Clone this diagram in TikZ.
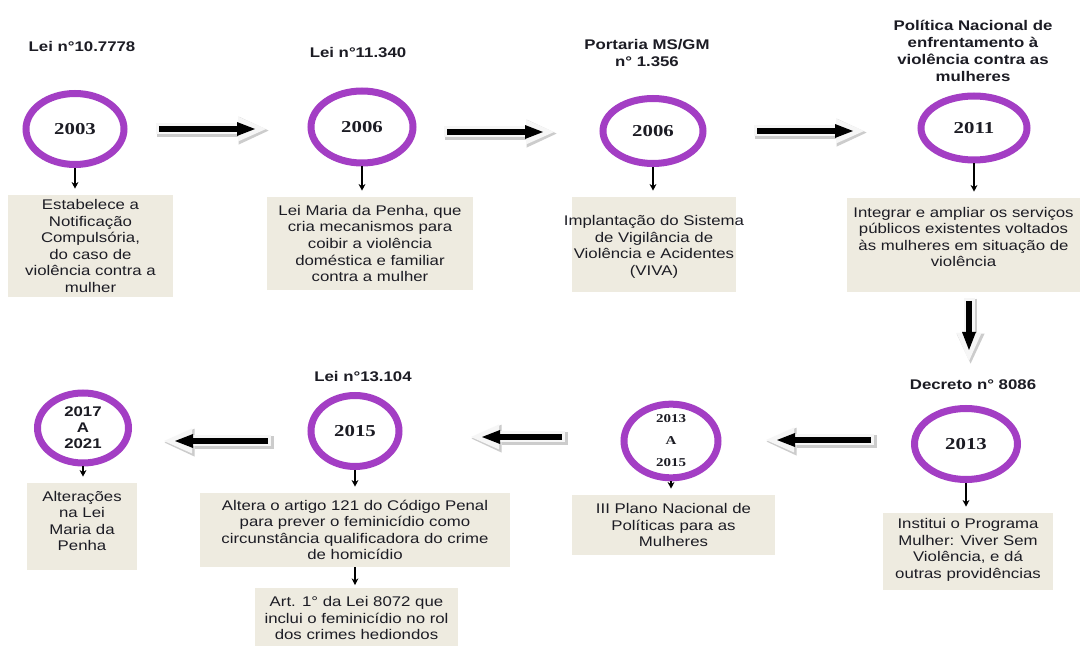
\documentclass[tikz,border=0pt]{standalone}
\usepackage{fontspec}
\setmainfont{Liberation Sans}[FakeStretch=1.2]
\newfontfamily\yearfont{Liberation Serif}[FakeStretch=1.25]
\usetikzlibrary{shapes.geometric,arrows.meta}
\definecolor{ringpurple}{RGB}{163,62,196}
\definecolor{boxbeige}{RGB}{238,235,224}
\definecolor{txt}{RGB}{28,28,36}
\begin{document}
\begin{tikzpicture}[x=0.75pt,y=-0.75pt,
  yr/.style 2 args={ellipse, draw=ringpurple, line width=5.25pt, fill=white, inner sep=0pt,
    minimum width=(#1-7)*0.75pt, minimum height=(#2-7)*0.75pt,
    font=\yearfont\bfseries\fontsize{12.5}{15}\selectfont, text=txt},
  boxbg/.style 2 args={fill=boxbeige, inner sep=0pt, minimum width=#1*0.75pt, minimum height=#2*0.75pt},
  boxtext/.style={align=center, inner sep=0pt, text=txt, font=\fontsize{10.5}{12.4}\selectfont},
  toplabel/.style={align=center, inner sep=0pt, text=txt, font=\bfseries\fontsize{10.5}{12.8}\selectfont},
  smallarr/.style={draw=black, line width=0.9pt, -{Stealth[length=5pt,width=5pt]}, shorten >=4.5pt},
  bigshadow/.style={draw=gray!40, line width=9.75pt, -{Triangle[length=22.5pt,width=21pt,line width=0pt]},
      transform canvas={shift={(1.2pt,-1.2pt)}}},
  bigface/.style={draw=gray!7, line width=8.25pt, -{Triangle[length=21pt,width=18.75pt,line width=0pt]},
      shorten >=0.75pt, shorten <=0.75pt},
  bigcore/.style={draw=black, line width=4.5pt, -{Triangle[length=13.5pt,width=10.5pt,line width=0pt]},
    shorten >=9pt, shorten <=3pt}
]
\useasboundingbox (0,0) rectangle (1083,648);
\fill[white] (0,0) rectangle (1083,648);

% top labels
\node[toplabel] (l1) at (82,47) {Lei n°10.7778};
\node[toplabel] (l2) at (358,53) {Lei n°11.340};
\node[toplabel] (l3) at (647,53) {Portaria MS/GM\\n° 1.356};
\node[toplabel] (l4) at (973,51) {Política Nacional de\\enfrentamento à\\violência contra as\\mulheres};
\node[toplabel] (l5) at (973,385) {Decreto n° 8086};
\node[toplabel] (l6) at (363,377) {Lei n°13.104};

% year circles
\node[yr={105}{78}] (c1) at (75,129) {2003};
\node[yr={109}{79}] (c2) at (362,127) {2006};
\node[yr={107}{72}] (c3) at (653,131) {2006};
\node[yr={113}{71}] (c4) at (974,128) {2011};
\node[yr={110}{78}] (c5) at (966,444) {2013};
\node[yr={101}{77}, align=center, font=\yearfont\bfseries\fontsize{9}{16.5}\selectfont] (c6) at (671,441) {2013\\A\\2015};
\node[yr={95}{78}] (c7) at (355,431) {2015};
\node[yr={98}{77}, align=center, font=\bfseries\fontsize{10.5}{12}\selectfont] (c8) at (83,428) {2017\\A\\2021};

% boxes
\node[boxbg={165}{102}] (b1) at (90.5,246) {};
\node[boxbg={206}{93}] (b2) at (370,243.5) {};
\node[boxbg={164}{95}] (b3) at (654,244.5) {};
\node[boxbg={233}{94}] (b4) at (963.5,245) {};
\node[boxbg={170}{77}] (b5) at (968,551.5) {};
\node[boxbg={203}{60}] (b6) at (673.5,525) {};
\node[boxbg={310}{74}] (b7) at (355,530) {};
\node[boxbg={203}{58}] (b8) at (356.5,617) {};
\node[boxbg={110}{87}] (b9) at (82,526.5) {};

\node[boxtext] (t1) at (90.5,246) {Estabelece a\\Notificação\\Compulsória,\\do caso de\\violência contra a\\mulher};
\node[boxtext] (t2) at (370,243.5) {Lei Maria da Penha, que\\cria mecanismos para\\coibir a violência\\doméstica e familiar\\contra a mulher};
\node[boxtext] (t3) at (654,247) {Implantação do Sistema\\de Vigilância de\\Violência e Acidentes\\(VIVA)};
\node[boxtext] (t4) at (963.5,237) {Integrar e ampliar os serviços\\públicos existentes voltados\\às mulheres em situação de\\violência};
\node[boxtext] (t5) at (968,550) {Institui o Programa\\Mulher: Viver Sem\\Violência, e dá\\outras providências};
\node[boxtext] (t6) at (673.5,525) {III Plano Nacional de\\Políticas para as\\Mulheres};
\node[boxtext] (t7) at (355,530) {Altera o artigo 121 do Código Penal\\para prever o feminicídio como\\circunstância qualificadora do crime\\de homicídio};
\node[boxtext] (t8) at (356.5,618) {Art. 1° da Lei 8072 que\\inclui o feminicídio no rol\\dos crimes hediondos};
\node[boxtext] (t9) at (82,521) {Alterações\\na Lei\\Maria da\\Penha};

% small arrows
\draw[smallarr] (c1.south) -- (c1.south |- b1.north);
\draw[smallarr] (c2.south) -- (c2.south |- b2.north);
\draw[smallarr] (c3.south) -- (c3.south |- b3.north);
\draw[smallarr] (c4.south) -- (c4.south |- b4.north);
\draw[smallarr] (c5.south) -- (c5.south |- b5.north);
\draw[smallarr] (c6.south) -- (c6.south |- b6.north);
\draw[smallarr] (c7.south) -- (c7.south |- b7.north);
\draw[smallarr] (c8.south) -- (c8.south |- b9.north);
\draw[smallarr, shorten >=2pt] (b7.south) -- (b7.south |- b8.north);

% big arrows
\coordinate (a1s) at (155,129);  \coordinate (a1e) at (267,129);
\coordinate (a2s) at (443,132);  \coordinate (a2e) at (555,132);
\coordinate (a3s) at (753,131);  \coordinate (a3e) at (865,131);
\coordinate (a4s) at (969,297);  \coordinate (a4e) at (969,362);
\coordinate (a5s) at (875,440);  \coordinate (a5e) at (765,440);
\coordinate (a6s) at (566,437);  \coordinate (a6e) at (470,437);
\coordinate (a7s) at (272,441);  \coordinate (a7e) at (163,441);
\foreach \s/\e in {a1s/a1e, a2s/a2e, a3s/a3e, a4s/a4e, a5s/a5e, a6s/a6e, a7s/a7e}{
  \draw[bigshadow] (\s) -- (\e);
  \draw[bigface] (\s) -- (\e);
  \draw[bigcore] (\s) -- (\e);
}
\end{tikzpicture}
\end{document}
